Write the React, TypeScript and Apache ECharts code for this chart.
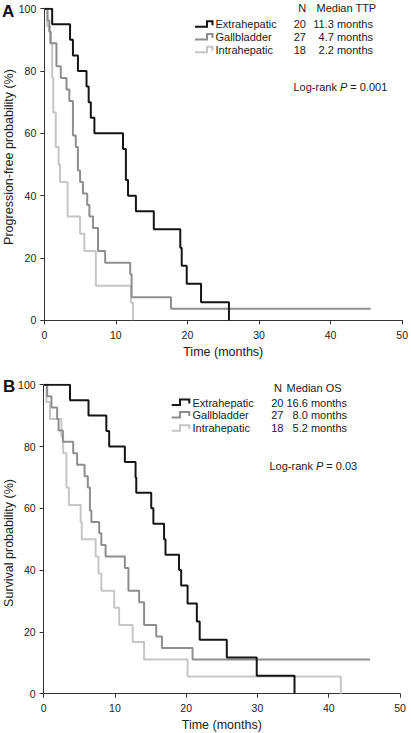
import React, { useEffect, useRef } from "react";
import * as echarts from "echarts";

// ---- Data (time in months, probability in %) ----
const xTicks = [0, 10, 20, 30, 40, 50];
const yTicks = [0, 20, 40, 60, 80, 100];
const groups = ["Extrahepatic", "Gallbladder", "Intrahepatic"];
const nA = ["20", "27", "18"];
const medianA = ["11.3 months", "4.7 months", "2.2 months"];
const nB = ["20", "27", "18"];
const medianB = ["16.6 months", "8.0 months", "5.2 months"];
const pA = "0.001";
const pB = "0.03";

// Panel A: progression-free
const extraA = [[0, 100], [1.1, 95], [3.6, 90], [4.0, 85], [4.7, 80], [5.9, 75], [6.2, 70], [6.5, 65], [7.0, 60], [11.0, 55], [11.4, 45], [11.7, 40], [12.8, 35], [15.3, 29.2], [19.0, 23.3], [19.2, 17.5], [19.9, 11.7], [21.9, 5.8], [25.8, 0]];
const gallA = [[0, 100], [0.45, 96.3], [0.7, 92.6], [0.9, 88.9], [1.7, 81.5], [2.3, 77.8], [3.1, 74.1], [3.5, 70.4], [4.0, 59.3], [4.4, 55.6], [4.7, 48.1], [5.0, 44.4], [5.4, 40.7], [6.0, 37.0], [6.3, 33.3], [6.8, 29.6], [7.5, 22.2], [8.5, 18.5], [12.0, 14.8], [12.2, 7.4], [17.7, 3.7], [45.6, 3.7]];
const intraA = [[0, 100], [0.4, 94.4], [0.8, 88.9], [1.1, 77.8], [1.25, 66.7], [1.6, 55.6], [2.0, 50], [2.2, 44.4], [3.25, 33.3], [5.0, 27.8], [5.6, 22.2], [7.2, 11.1], [12.1, 5.6], [12.4, 0]];

// Panel B: overall survival
const extraB = [[0, 100], [3.7, 95], [6.3, 90], [8.8, 85], [9.2, 80], [11.4, 75], [12.9, 70], [13.0, 65], [15.1, 60], [15.4, 55], [16.9, 50], [17.1, 45], [19.0, 40], [19.3, 35], [20.2, 29.2], [21.5, 23.4], [21.9, 17.5], [25.7, 11.7], [29.9, 5.8], [35.2, 0]];
const gallB = [[0, 100], [0.5, 96.3], [1.1, 92.6], [1.9, 88.9], [2.1, 85.2], [2.7, 81.5], [4.15, 77.8], [4.7, 74.1], [5.75, 70.4], [6.2, 66.7], [6.5, 59.3], [6.7, 55.6], [7.8, 51.9], [8.1, 48.1], [8.7, 44.4], [11.4, 40.7], [11.9, 33.3], [13.4, 29.6], [14.1, 22.2], [15.8, 18.5], [16.6, 14.8], [20.9, 11.1], [45.8, 11.1]];
const intraB = [[0, 100], [0.4, 94.4], [0.9, 88.9], [2.5, 83.3], [2.75, 77.8], [3.2, 66.7], [3.55, 61.1], [5.2, 55.6], [5.35, 50], [7.3, 44.4], [7.7, 38.9], [8.1, 33.3], [9.9, 27.8], [10.6, 22.2], [12.5, 16.7], [14.1, 11.1], [20.2, 5.6], [41.7, 0]];

const colors = ["#151515", "#8e8e8e", "#c6c6c6"];
const FONT = "Liberation Sans, Arial, Helvetica, sans-serif";
const TXT = "#222";
const TS = 11;

function txt(text: string, x: number, y: number, align: string = "left", size = TS, extra: any = {}) {
  return {
    type: "text",
    style: {
      text, x, y,
      fontSize: size, fontFamily: FONT, fill: TXT,
      align, textAlign: align, verticalAlign: "middle", textVerticalAlign: "middle",
      ...extra,
    },
  };
}

function vtxt(text: string, x: number, y: number, size: number) {
  return {
    type: "text",
    x, y, rotation: Math.PI / 2,
    style: {
      text, x: 0, y: 0, fontSize: size, fontFamily: FONT, fill: TXT,
      align: "center", textAlign: "center", verticalAlign: "middle", textVerticalAlign: "middle",
    },
  };
}

function pText(p: string, x: number, y: number) {
  return {
    type: "text",
    style: {
      text: `{a|Log-rank }{i|P}{a| = ${p}}`,
      x, y, fontFamily: FONT, fontSize: TS, fill: TXT,
      verticalAlign: "middle", textVerticalAlign: "middle",
      rich: {
        a: { fontFamily: FONT, fontSize: TS, fill: TXT, color: TXT },
        i: { fontFamily: FONT, fontSize: TS, fontStyle: "italic", fill: TXT, color: TXT },
      },
    },
  };
}

function icon(x0: number, xv: number, x1: number, b: number, h: number, color: string) {
  return {
    type: "polyline",
    shape: { points: [[x0, b], [xv, b], [xv, b - h], [x1, b - h], [x1, b - h + 4]] },
    style: { stroke: color, lineWidth: 2, fill: "none" },
  };
}

export default function App() {
  const ref = useRef<HTMLDivElement>(null);
  useEffect(() => {
    if (!ref.current) return;
    const chart = echarts.init(ref.current, undefined, { renderer: "svg" });

    const axisCommon = {
      axisLine: { show: true, lineStyle: { color: "#333", width: 1 } },
      axisTick: { show: true, length: 4, lineStyle: { color: "#333" } },
      splitLine: { show: false },
      axisLabel: { color: TXT, fontFamily: FONT, fontSize: 10.5 },
      nameTextStyle: { color: TXT, fontFamily: FONT, fontSize: 12.5 },
    };

    const xAxis = (gi: number) => ({
      ...axisCommon,
      type: "value", gridIndex: gi, min: 0, max: xTicks[xTicks.length - 1], interval: 10,
      name: "Time (months)", nameLocation: "middle", nameGap: 25,
      axisLabel: { ...axisCommon.axisLabel, margin: 9 },
    });
    const yAxis = (gi: number) => ({
      ...axisCommon,
      type: "value", gridIndex: gi, min: 0, max: yTicks[yTicks.length - 1], interval: 20,
      axisLabel: { ...axisCommon.axisLabel, margin: 8 },
    });

    const mk = (name: string, data: number[][], ci: number, gi: number) => ({
      type: "line", name, data, step: "end", xAxisIndex: gi, yAxisIndex: gi,
      symbol: "none", lineStyle: { color: colors[ci], width: 2 },
      itemStyle: { color: colors[ci] }, z: 10 - ci,
    });

    const graphicEls: any[] = [
      txt("A", 2, 11, "left", 17, { fontWeight: "bold", fill: "#111" }),
      txt("B", 3, 386, "left", 17, { fontWeight: "bold", fill: "#111" }),
      vtxt("Progression-free probability (%)", 9, 157, 12.5),
      vtxt("Survival probability (%)", 9, 543, 12.5),
      // Panel A legend / table
      txt("N", 302.3, 8, "center"),
      txt("Median TTP", 316.5, 8, "left"),
      pText(pA, 293.5, 87.3),
      // Panel B legend / table
      txt("N", 278, 388.3, "center"),
      txt("Median OS", 286.5, 388.3, "left"),
      pText(pB, 269.5, 466),
    ];
    const rowsA = [24.3, 37.3, 50.3];
    const baseA = [26.7, 39.5, 52.3];
    const rowsB = [402.7, 415.3, 428.3];
    const baseB = [405, 417.5, 430.7];
    groups.forEach((g, i) => {
      graphicEls.push(icon(195, 207, 212.5, baseA[i], 5.5, colors[i]));
      graphicEls.push(txt(g, 215.5, rowsA[i], "left"));
      graphicEls.push(txt(nA[i], 306, rowsA[i], "right"));
      graphicEls.push(txt(medianA[i], 373, rowsA[i], "right"));
      graphicEls.push(icon(171.7, 180, 189.3, baseB[i], 5.5, colors[i]));
      graphicEls.push(txt(g, 192.5, rowsB[i], "left"));
      graphicEls.push(txt(nB[i], 283.5, rowsB[i], "right"));
      graphicEls.push(txt(medianB[i], 347, rowsB[i], "right"));
    });

    chart.setOption({
      animation: false,
      backgroundColor: "#fff",
      textStyle: { fontFamily: FONT },
      grid: [
        { left: 44.3, top: 8.7, width: 360, height: 311.6 },
        { left: 43.6, top: 384.7, width: 356.4, height: 309 },
      ],
      xAxis: [xAxis(0), xAxis(1)],
      yAxis: [yAxis(0), yAxis(1)],
      series: [
        mk(groups[0], extraA, 0, 0),
        mk(groups[1], gallA, 1, 0),
        mk(groups[2], intraA, 2, 0),
        mk(groups[0], extraB, 0, 1),
        mk(groups[1], gallB, 1, 1),
        mk(groups[2], intraB, 2, 1),
      ],
      graphic: graphicEls,
    });
    return () => chart.dispose();
  }, []);
  return <div ref={ref} style={{ position: "absolute", left: 0, top: 0, width: 411, height: 733 }} />;
}
